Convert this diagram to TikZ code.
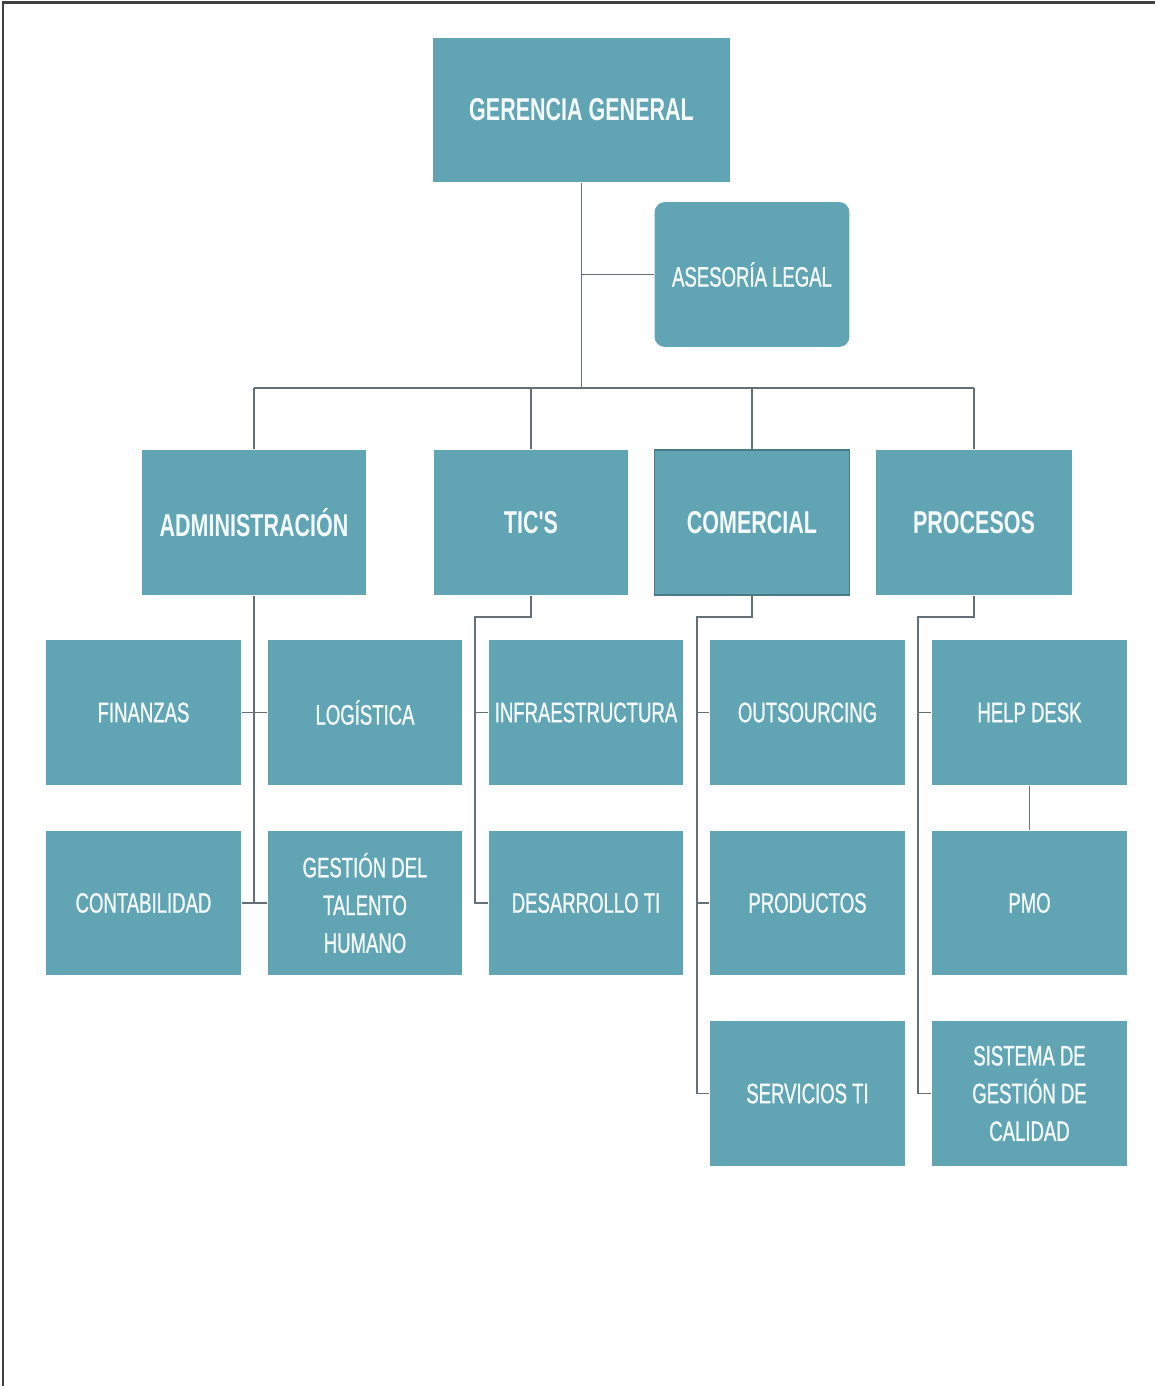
\documentclass[tikz,border=0pt]{standalone}
\usepackage{fontspec}
\usepackage{tikz}
\newfontfamily\orgfont[FakeStretch=0.68]{Liberation Sans}
\newfontfamily\orgsubfont[FakeStretch=0.66,FakeBold=0.9]{Liberation Sans}
\definecolor{orgfill}{RGB}{97,164,180}
\definecolor{orgline}{RGB}{100,112,117}
\definecolor{orgtext}{RGB}{244,250,250}
\newcommand{\orgboxw}{3.9cm}
\newcommand{\orgboxh}{2.9cm}
\newcommand{\orgtop}{\orgfont\fontsize{18}{21.5}\selectfont\bfseries}
\newcommand{\orgsub}{\orgsubfont\fontsize{16}{21.5}\selectfont}

\begin{document}
\begin{tikzpicture}[x=0.02cm,y=-0.02cm,line width=0.8pt]
			\useasboundingbox (0,0) rectangle (1155,1386);
			\draw [line width=1.2pt,color=black!75] (3,1386) -- (3,2.5) -- (1155,2.5);
			\begin{scope}[shape=rectangle,inner sep=0pt,minimum height=\orgboxh,minimum width=\orgboxw]
			\tikzstyle{every node}=[fill=orgfill,text=orgtext,align=center,font=\orgsub]
			\node[minimum width=5.94cm,font=\orgtop] (gg) at (581.5,110) {GERENCIA GENERAL};
			\node[rounded corners=6pt] (al) at (752,274.5) {ASESORÍA LEGAL};
			\node[minimum width=4.5cm,font=\orgtop] (adm) at (254,522.5) {ADMINISTRACIÓN};
			\node[font=\orgtop] (tic) at (531,522.5) {TIC'S};
			\node[draw=orgfill!75!black,line width=0.6pt,font=\orgtop] (com) at (752,522.5) {COMERCIAL};
			\node[minimum width=3.92cm,font=\orgtop] (pro) at (974,522.5) {PROCESOS};
			\node (fin) at (143.5,712.5) {FINANZAS};
			\node (log) at (365,712.5) {LOGÍSTICA};
			\node (inf) at (586,712.5) {INFRAESTRUCTURA};
			\node (out) at (807.5,712.5) {OUTSOURCING};
			\node (hd) at (1029.5,712.5) {HELP DESK};
			\node (cont) at (143.5,903) {CONTABILIDAD};
			\node (gth) at (365,903) {GESTIÓN DEL\\TALENTO\\HUMANO};
			\node (des) at (586,903) {DESARROLLO TI};
			\node (prod) at (807.5,903) {PRODUCTOS};
			\node (pmo) at (1029.5,903) {PMO};
			\node (sti) at (807.5,1093.5) {SERVICIOS TI};
			\node (sgc) at (1029.5,1093.5) {SISTEMA DE\\GESTIÓN DE\\CALIDAD};
			\end{scope}
			\begin{scope}[color=orgline]
			\coordinate (busL) at (254,388);
			\coordinate (busR) at (974,388);
			\coordinate (ticK) at (475,617);
			\coordinate (comK) at (697,617);
			\coordinate (proK) at (918,617);
			\draw [-] (gg.south) -- (gg.south |- busL);
			\draw [-] (gg.south |- al.west) -- (al.west);
			\draw [-] (busL) -- (busR);
			\draw [-] (busL) -- (adm.north);
			\draw [-] (tic.north |- busL) -- (tic.north);
			\draw [-] (com.north |- busL) -- (com.north);
			\draw [-] (busR) -- (pro.north);
			\draw [-] (adm.south) -- (adm.south |- cont.east);
			\draw [-] (fin.east) -- (log.west);
			\draw [-] (cont.east) -- (gth.west);
			\draw [-] (tic.south) |- (ticK) |- (des.west);
			\draw [-] (ticK |- inf.west) -- (inf.west);
			\draw [-] (com.south) |- (comK) |- (sti.west);
			\draw [-] (comK |- out.west) -- (out.west);
			\draw [-] (comK |- prod.west) -- (prod.west);
			\draw [-] (pro.south) |- (proK) |- (sgc.west);
			\draw [-] (proK |- hd.west) -- (hd.west);
			\draw [-] (hd.south) -- (pmo.north);
			\end{scope}
		\end{tikzpicture}
\end{document}
